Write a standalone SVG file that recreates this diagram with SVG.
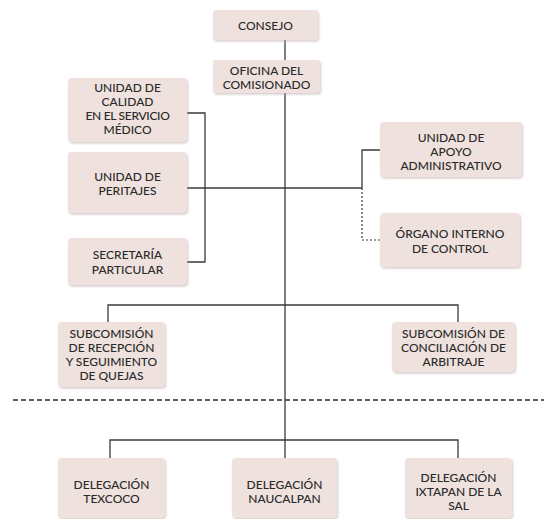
<svg xmlns="http://www.w3.org/2000/svg" width="544" height="519" viewBox="0 0 544 519">
<defs>
<filter id="sh" x="-10%" y="-10%" width="125%" height="130%">
<feDropShadow dx="1" dy="1.5" stdDeviation="1.2" flood-color="#b8a8a4" flood-opacity="0.6"/>
</filter>
</defs>
<style>
.box{fill:#efe2de;filter:url(#sh)}
.t{font-family:Lato,"Liberation Sans",sans-serif;font-size:12px;font-weight:500;fill:#2a2a2a;text-anchor:middle}
.ln{stroke:#3a3a3a;stroke-width:1.3;fill:none}
.dl{stroke:#3a3a3a;stroke-width:1.2;fill:none;stroke-dasharray:2,2}
.dh{stroke:#2d2d2d;stroke-width:1.4;fill:none;stroke-dasharray:5,3}
</style>
<rect width="544" height="519" fill="#ffffff"/>
<g id="connectors">
<line class="ln" x1="285" y1="40" x2="285" y2="60"/>
<line class="ln" x1="285" y1="93" x2="285" y2="458"/>
<polyline class="ln" points="187,113 205,113 205,262 187,262"/>
<line class="ln" x1="187" y1="188" x2="362" y2="188"/>
<polyline class="ln" points="362,188 362,150 380,150"/>
<polyline class="dl" points="362,188 362,240 380,240"/>
<polyline class="ln" points="108,323 108,305 458,305 458,322"/>
<polyline class="ln" points="110,458 110,440 458,440 458,458"/>
<line class="dh" x1="13" y1="400" x2="544" y2="400"/>
</g>
<g id="consejo"><rect class="box" x="213" y="10" width="105" height="30" rx="3"/><text class="t" x="265.5" y="29.5">CONSEJO</text></g>
<g id="oficina"><rect class="box" x="213" y="60" width="107" height="33" rx="3"/><text class="t" x="266.5" y="74.5">OFICINA DEL</text><text class="t" x="266.5" y="88.5">COMISIONADO</text></g>
<g id="calidad"><rect class="box" x="68" y="78" width="119" height="64" rx="4"/><text class="t" x="127.5" y="91.5">UNIDAD DE</text><text class="t" x="127.5" y="105.5">CALIDAD</text><text class="t" x="127.5" y="119.5" letter-spacing="-0.3">EN EL SERVICIO</text><text class="t" x="127.5" y="133.5">MÉDICO</text></g>
<g id="peritajes"><rect class="box" x="68" y="152" width="119" height="61" rx="4"/><text class="t" x="127.5" y="180.5">UNIDAD DE</text><text class="t" x="127.5" y="194.5">PERITAJES</text></g>
<g id="secretaria"><rect class="box" x="68" y="238" width="119" height="47" rx="4"/><text class="t" x="127.5" y="258.5">SECRETARÍA</text><text class="t" x="127.5" y="273.5">PARTICULAR</text></g>
<g id="apoyo"><rect class="box" x="380" y="122" width="142" height="55" rx="4"/><text class="t" x="451" y="141.5">UNIDAD DE</text><text class="t" x="451" y="155.5">APOYO</text><text class="t" x="451" y="169.5">ADMINISTRATIVO</text></g>
<g id="organo"><rect class="box" x="380" y="213" width="140" height="54" rx="4"/><text class="t" x="450" y="237.5">ÓRGANO INTERNO</text><text class="t" x="450" y="252.5">DE CONTROL</text></g>
<g id="sub-recepcion"><rect class="box" x="58" y="322" width="107" height="65" rx="4"/><text class="t" x="111.5" y="337.5">SUBCOMISIÓN</text><text class="t" x="111.5" y="351.5">DE RECEPCIÓN</text><text class="t" x="111.5" y="365.5">Y SEGUIMIENTO</text><text class="t" x="111.5" y="379.5">DE QUEJAS</text></g>
<g id="sub-conciliacion"><rect class="box" x="392" y="322" width="123" height="50" rx="4"/><text class="t" x="453.5" y="337.5">SUBCOMISIÓN DE</text><text class="t" x="453.5" y="351.5">CONCILIACIÓN DE</text><text class="t" x="453.5" y="365.5">ARBITRAJE</text></g>
<g id="texcoco"><rect class="box" x="58" y="458" width="107" height="60" rx="4"/><text class="t" x="111.5" y="488.5">DELEGACIÓN</text><text class="t" x="111.5" y="502.5">TEXCOCO</text></g>
<g id="naucalpan"><rect class="box" x="232" y="458" width="105" height="60" rx="4"/><text class="t" x="284.5" y="488.5">DELEGACIÓN</text><text class="t" x="284.5" y="502.5">NAUCALPAN</text></g>
<g id="ixtapan"><rect class="box" x="405" y="458" width="107" height="60" rx="4"/><text class="t" x="458.5" y="481.5">DELEGACIÓN</text><text class="t" x="458.5" y="495.5">IXTAPAN DE LA</text><text class="t" x="458.5" y="509.5">SAL</text></g>
</svg>
